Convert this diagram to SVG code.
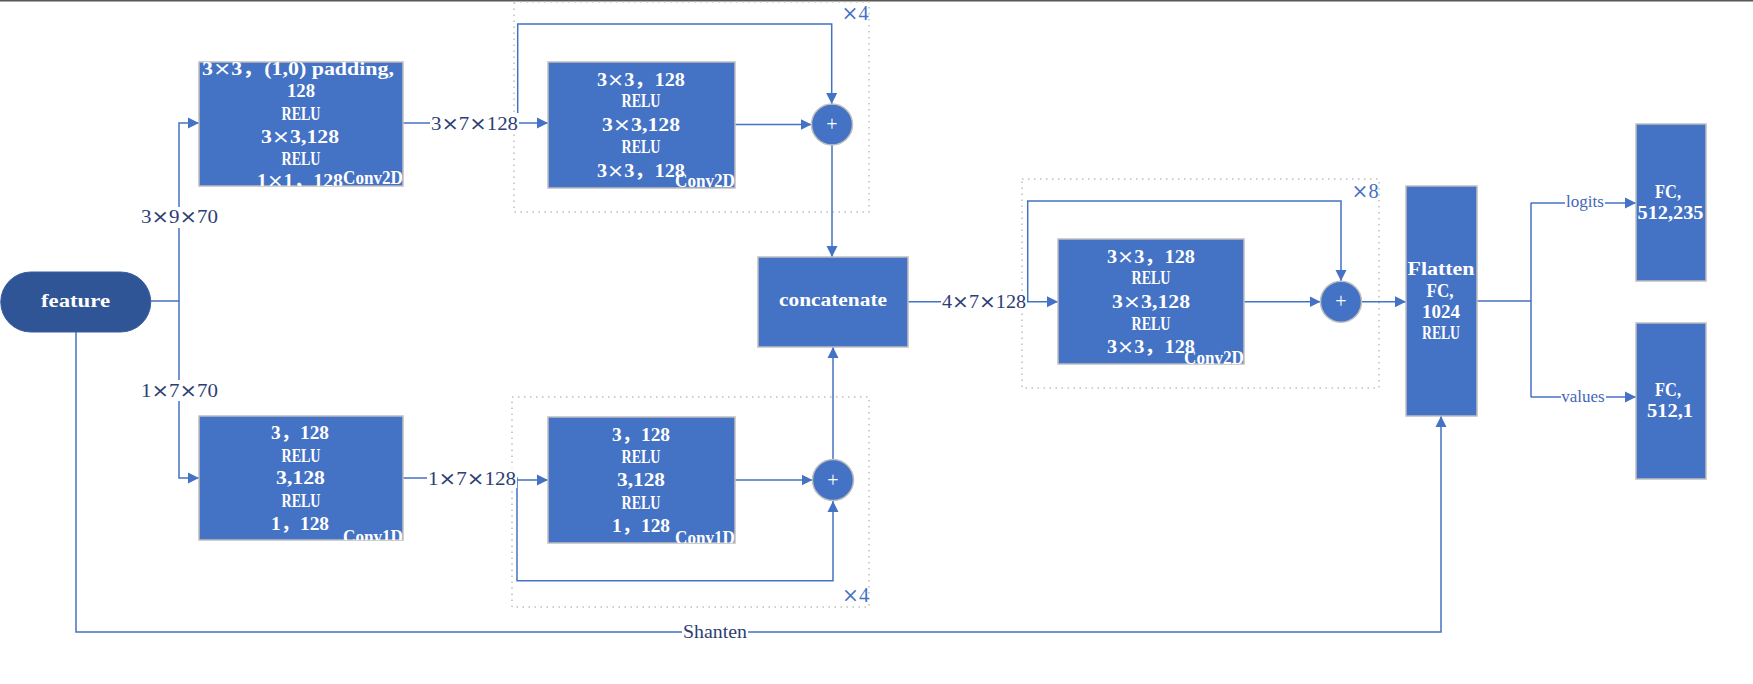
<svg xmlns="http://www.w3.org/2000/svg" width="1753" height="684" viewBox="0 0 1753 684">
<style>
.box{fill:#4472C4;stroke:#BFBFBF;stroke-width:1.5}
.bt{font-family:"Liberation Serif","Noto Sans CJK SC",serif;font-weight:bold;font-size:18.5px;fill:#fff;text-anchor:middle}
.tag{font-family:"Liberation Serif","Noto Sans CJK SC",serif;font-weight:bold;font-size:18.5px;fill:#fff;text-anchor:end}
.x{font-family:"DejaVu Serif",serif;font-weight:normal}
.ln{fill:none;stroke:#4472C4;stroke-width:1.5}
.arr{marker-end:url(#ah)}
.dot{fill:none;stroke:#BFBFBF;stroke-width:1.5;stroke-dasharray:1.5 4.5}
.lb{font-family:"Liberation Serif","Noto Sans CJK SC",serif;font-size:18px;fill:#2C3E73;text-anchor:middle}
.lb2{font-family:"Liberation Serif",serif;font-size:17px;fill:#4466B8;text-anchor:middle}
.rep{font-family:"Liberation Serif",serif;font-size:20px;fill:#4472C4;text-anchor:middle}
.bg{fill:#fff}
.add{fill:#4472C4;stroke:#BFBFBF;stroke-width:1.5}
.pt{font-family:"Liberation Serif",serif;font-size:20px;fill:#fff;text-anchor:middle}
</style>
<defs>
<marker id="ah" markerWidth="12" markerHeight="12" refX="11" refY="6" orient="auto" markerUnits="userSpaceOnUse"><path d="M0,0.5 L11,6 L0,11.5 z" fill="#4472C4"/></marker>
<clipPath id="c1"><rect x="199" y="62" width="204" height="124"/></clipPath>
<clipPath id="c3"><rect x="199" y="416" width="204" height="124"/></clipPath>
<clipPath id="c4"><rect x="548" y="417" width="187" height="126"/></clipPath>
</defs>
<rect x="0" y="0" width="1753" height="1.5" fill="#595959"/>
<g id="repeat-frames">
<rect class="dot" x="514" y="2" width="355" height="210"/>
<rect class="dot" x="512" y="397" width="357" height="210"/>
<rect class="dot" x="1022" y="179" width="357" height="209"/>
<text class="rep" x="855" y="20" textLength="27" lengthAdjust="spacingAndGlyphs"><tspan class="x">×</tspan>4</text>
<text class="rep" x="855.5" y="602" textLength="27" lengthAdjust="spacingAndGlyphs"><tspan class="x">×</tspan>4</text>
<text class="rep" x="1365" y="198" textLength="27" lengthAdjust="spacingAndGlyphs"><tspan class="x">×</tspan>8</text>
</g>
<g id="connectors">
<path class="ln arr" d="M151,301 H179 V123 H199"/>
<path class="ln arr" d="M179,301 V478 H199"/>
<path class="ln arr" d="M403,123 H548"/>
<path class="ln arr" d="M517.7,123 V24 H831.7 V104"/>
<path class="ln arr" d="M735,124.5 H811.5"/>
<path class="ln arr" d="M832,145 V257"/>
<path class="ln arr" d="M403,478 H517 V480 H548"/>
<path class="ln arr" d="M517,480 V580.7 H833 V501"/>
<path class="ln arr" d="M735,480 H812.5"/>
<path class="ln arr" d="M833,459.5 V347"/>
<path class="ln arr" d="M908,301.7 H1058"/>
<path class="ln arr" d="M1027.7,301.7 V201 H1341 V281"/>
<path class="ln arr" d="M1244,301.7 H1320.5"/>
<path class="ln arr" d="M1362,301.7 H1406"/>
<path class="ln arr" d="M76,332 V632 H1441 V416"/>
<path class="ln" d="M1477,301 H1531 M1531,202.7 V397.3"/>
<path class="ln arr" d="M1531,203 H1636"/>
<path class="ln arr" d="M1531,397 H1636"/>
</g>
<g id="connector-labels">
<rect class="bg" x="140" y="207" width="79" height="21"/>
<text class="lb" x="179.5" y="223" textLength="77" lengthAdjust="spacingAndGlyphs">3<tspan class="x">×</tspan>9<tspan class="x">×</tspan>70</text>
<rect class="bg" x="140" y="380" width="79" height="21"/>
<text class="lb" x="179.5" y="397" textLength="77" lengthAdjust="spacingAndGlyphs">1<tspan class="x">×</tspan>7<tspan class="x">×</tspan>70</text>
<rect class="bg" x="430" y="113" width="89" height="20"/>
<text class="lb" x="474.5" y="129.5" textLength="87" lengthAdjust="spacingAndGlyphs">3<tspan class="x">×</tspan>7<tspan class="x">×</tspan>128</text>
<rect class="bg" x="427" y="468" width="90" height="20"/>
<text class="lb" x="472" y="484.5" textLength="88" lengthAdjust="spacingAndGlyphs">1<tspan class="x">×</tspan>7<tspan class="x">×</tspan>128</text>
<rect class="bg" x="941" y="292" width="86" height="20"/>
<text class="lb" x="984" y="308" textLength="84" lengthAdjust="spacingAndGlyphs">4<tspan class="x">×</tspan>7<tspan class="x">×</tspan>128</text>
<rect class="bg" x="682" y="622" width="66" height="20"/>
<text class="lb" x="715" y="638" textLength="64" lengthAdjust="spacingAndGlyphs">Shanten</text>
<rect class="bg" x="1565" y="194" width="40" height="18"/>
<text class="lb2" x="1585" y="207">logits</text>
<rect class="bg" x="1561" y="388" width="45" height="18"/>
<text class="lb2" x="1583" y="401.5">values</text>
</g>
<g id="feature">
<rect x="0.75" y="272" width="150" height="60" rx="30" fill="#2F5597" stroke="#3A5E9E" stroke-width="1"/>
<text class="bt" x="75.5" y="307" textLength="69" lengthAdjust="spacingAndGlyphs">feature</text>
</g>
<g id="conv2d-stem">
<rect class="box" x="199" y="62" width="204" height="124"/>
<g clip-path="url(#c1)">
<text class="bt" x="298" y="74.5" textLength="192" lengthAdjust="spacingAndGlyphs">3<tspan class="x">×</tspan>3，(1,0) padding,</text>
<text class="bt" x="301" y="96.5" textLength="28" lengthAdjust="spacingAndGlyphs">128</text>
<text class="bt" x="301" y="119.5" textLength="39" lengthAdjust="spacingAndGlyphs">RELU</text>
<text class="bt" x="300" y="142.5" textLength="78" lengthAdjust="spacingAndGlyphs">3<tspan class="x">×</tspan>3,128</text>
<text class="bt" x="301" y="164.5" textLength="39" lengthAdjust="spacingAndGlyphs">RELU</text>
<text class="bt" x="300" y="187" textLength="86" lengthAdjust="spacingAndGlyphs">1<tspan class="x">×</tspan>1，128</text>
<text class="tag" x="403" y="184" textLength="60" lengthAdjust="spacingAndGlyphs">Conv2D</text>
</g>
</g>
<g id="conv2d-res">
<rect class="box" x="548" y="62" width="187" height="126"/>
<text class="bt" x="641" y="85.5" textLength="88" lengthAdjust="spacingAndGlyphs">3<tspan class="x">×</tspan>3，128</text>
<text class="bt" x="641" y="107" textLength="39" lengthAdjust="spacingAndGlyphs">RELU</text>
<text class="bt" x="641" y="130.5" textLength="78" lengthAdjust="spacingAndGlyphs">3<tspan class="x">×</tspan>3,128</text>
<text class="bt" x="641" y="153" textLength="39" lengthAdjust="spacingAndGlyphs">RELU</text>
<text class="bt" x="641" y="176.5" textLength="88" lengthAdjust="spacingAndGlyphs">3<tspan class="x">×</tspan>3，128</text>
<text class="tag" x="735" y="187" textLength="60" lengthAdjust="spacingAndGlyphs">Conv2D</text>
</g>
<g id="add-2d">
<circle class="add" cx="832" cy="124.5" r="20.5"/>
<text class="pt" x="832" y="131">+</text>
</g>
<g id="conv1d-stem">
<rect class="box" x="199" y="416" width="204" height="124"/>
<g clip-path="url(#c3)">
<text class="bt" x="300" y="439" textLength="58" lengthAdjust="spacingAndGlyphs">3，128</text>
<text class="bt" x="301" y="461.5" textLength="39" lengthAdjust="spacingAndGlyphs">RELU</text>
<text class="bt" x="300.5" y="484" textLength="49" lengthAdjust="spacingAndGlyphs">3,128</text>
<text class="bt" x="301" y="507" textLength="39" lengthAdjust="spacingAndGlyphs">RELU</text>
<text class="bt" x="300" y="529.5" textLength="58" lengthAdjust="spacingAndGlyphs">1，128</text>
<text class="tag" x="403" y="543" textLength="60" lengthAdjust="spacingAndGlyphs">Conv1D</text>
</g>
</g>
<g id="conv1d-res">
<rect class="box" x="548" y="417" width="187" height="126"/>
<g clip-path="url(#c4)">
<text class="bt" x="641" y="440.5" textLength="58" lengthAdjust="spacingAndGlyphs">3，128</text>
<text class="bt" x="641" y="463" textLength="39" lengthAdjust="spacingAndGlyphs">RELU</text>
<text class="bt" x="641" y="485.5" textLength="48" lengthAdjust="spacingAndGlyphs">3,128</text>
<text class="bt" x="641" y="509" textLength="39" lengthAdjust="spacingAndGlyphs">RELU</text>
<text class="bt" x="641" y="531.5" textLength="58" lengthAdjust="spacingAndGlyphs">1，128</text>
<text class="tag" x="735" y="544" textLength="60" lengthAdjust="spacingAndGlyphs">Conv1D</text>
</g>
</g>
<g id="add-1d">
<circle class="add" cx="833" cy="480" r="20.5"/>
<text class="pt" x="833" y="486.5">+</text>
</g>
<g id="concatenate">
<rect class="box" x="758" y="257" width="150" height="90"/>
<text class="bt" x="833" y="306" textLength="108" lengthAdjust="spacingAndGlyphs">concatenate</text>
</g>
<g id="conv2d-trunk">
<rect class="box" x="1058" y="239" width="186" height="125"/>
<text class="bt" x="1151" y="262.5" textLength="88" lengthAdjust="spacingAndGlyphs">3<tspan class="x">×</tspan>3，128</text>
<text class="bt" x="1151" y="283.5" textLength="39" lengthAdjust="spacingAndGlyphs">RELU</text>
<text class="bt" x="1151" y="307.5" textLength="78" lengthAdjust="spacingAndGlyphs">3<tspan class="x">×</tspan>3,128</text>
<text class="bt" x="1151" y="329.5" textLength="39" lengthAdjust="spacingAndGlyphs">RELU</text>
<text class="bt" x="1151" y="353" textLength="88" lengthAdjust="spacingAndGlyphs">3<tspan class="x">×</tspan>3，128</text>
<text class="tag" x="1244" y="364" textLength="60" lengthAdjust="spacingAndGlyphs">Conv2D</text>
</g>
<g id="add-trunk">
<circle class="add" cx="1341" cy="301.7" r="20.5"/>
<text class="pt" x="1341" y="308.2">+</text>
</g>
<g id="flatten-fc">
<rect class="box" x="1406" y="186" width="71" height="230"/>
<text class="bt" x="1441" y="275" textLength="67" lengthAdjust="spacingAndGlyphs">Flatten</text>
<text class="bt" x="1440" y="297" textLength="27" lengthAdjust="spacingAndGlyphs">FC,</text>
<text class="bt" x="1441" y="318" textLength="38" lengthAdjust="spacingAndGlyphs">1024</text>
<text class="bt" x="1441" y="339" textLength="38" lengthAdjust="spacingAndGlyphs">RELU</text>
</g>
<g id="fc-logits">
<rect class="box" x="1636" y="124" width="70" height="157"/>
<text class="bt" x="1668" y="198" textLength="26" lengthAdjust="spacingAndGlyphs">FC,</text>
<text class="bt" x="1670.5" y="219" textLength="66" lengthAdjust="spacingAndGlyphs">512,235</text>
</g>
<g id="fc-values">
<rect class="box" x="1636" y="323" width="70" height="156"/>
<text class="bt" x="1668" y="396" textLength="26" lengthAdjust="spacingAndGlyphs">FC,</text>
<text class="bt" x="1670" y="417" textLength="46" lengthAdjust="spacingAndGlyphs">512,1</text>
</g>
</svg>
